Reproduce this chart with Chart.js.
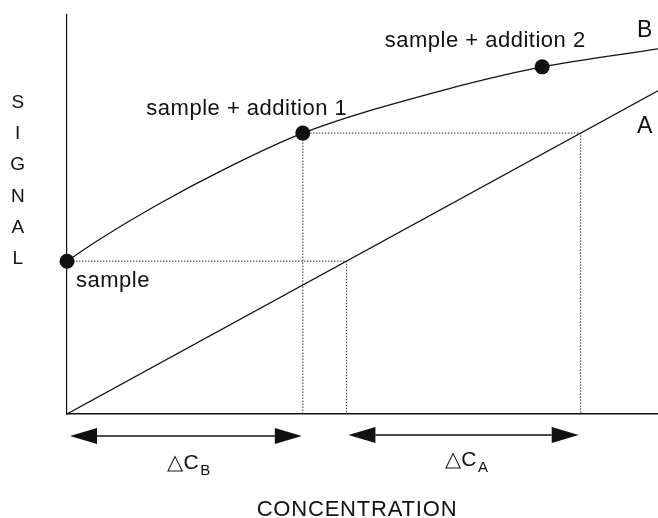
<!DOCTYPE html>
<html>
<head>
<meta charset="utf-8">
<script src="https://cdn.jsdelivr.net/npm/chart.js@4.4.1/dist/chart.umd.min.js"></script>
<style>
  html, body { margin: 0; padding: 0; background: #fff; }
  #c { display: block; }
</style>
</head>
<body>
<canvas id="c" width="658" height="518"></canvas>
<script>
// ---- data (arbitrary units 0..10) ----
const markerX = [0, 3.99, 8.04];
const markerY = [3.83, 7.04, 8.70];
const markerLabels = ['sample', 'sample + addition 1', 'sample + addition 2'];

const curveBX = [0, 0.5, 1.5, 2.75, 3.99, 6.2, 8.04, 10];
const curveBY = [3.83, 4.33, 5.22, 6.2, 7.04, 8.05, 8.70, 9.15];

const lineAX = [0, 10];
const lineAY = [0, 8.1];

const curveNames = ['A', 'B'];
const axisTitleX = 'CONCENTRATION';
const axisTitleY = 'SIGNAL';
const deltaLabels = [['\u25B3C', 'B'], ['\u25B3C', 'A']];

// ---- derived ----
const aSlope = lineAY[1] / lineAX[1];
const xSampleOnA = markerY[0] / aSlope;   // concentration on A giving the sample signal
const xAdd1OnA = markerY[1] / aSlope;     // concentration on A giving sample+addition 1 signal

const pts = (xs, ys) => xs.map((x, i) => ({ x: x, y: ys[i] }));

const FONT = '"Liberation Sans", Arial, Helvetica, sans-serif';
const INK = '#111';

const annotate = {
  id: 'annotate',
  afterDraw(chart) {
    const ctx = chart.ctx;
    const xs = chart.scales.x, ys = chart.scales.y;
    const px = v => xs.getPixelForValue(v);
    const py = v => ys.getPixelForValue(v);
    const area = chart.chartArea;
    ctx.save();
    ctx.fillStyle = INK;
    ctx.strokeStyle = INK;
    ctx.textBaseline = 'alphabetic';
    try { ctx.letterSpacing = '0.5px'; } catch (e) {}

    // point labels
    ctx.font = '22px ' + FONT;
    ctx.textAlign = 'left';
    ctx.fillText(markerLabels[0], px(markerX[0]) + 9, py(markerY[0]) + 26);
    ctx.textAlign = 'center';
    ctx.fillText(markerLabels[1], px(markerX[1]) - 56, py(markerY[1]) - 18);
    ctx.fillText(markerLabels[2], px(markerX[2]) - 57, py(markerY[2]) - 20);

    // curve names
    ctx.font = '23px ' + FONT;
    ctx.fillText(curveNames[1], 645, 37);
    ctx.fillText(curveNames[0], 645, 133);

    // y axis title, letters stacked
    ctx.font = '19px ' + FONT;
    const letters = axisTitleY.split('');
    letters.forEach((ch, i) => {
      ctx.fillText(ch, 18, 108 + i * 31.2);
    });

    // x axis title
    ctx.font = '22px ' + FONT;
    try { ctx.letterSpacing = '0.8px'; } catch (e) {}
    ctx.fillText(axisTitleX, 357, 516);
    try { ctx.letterSpacing = '0.5px'; } catch (e) {}

    // double arrows
    function dblArrow(x0, x1, y) {
      const L = 27, H = 8;
      ctx.lineWidth = 1.5;
      ctx.beginPath();
      ctx.moveTo(x0 + L, y);
      ctx.lineTo(x1 - L, y);
      ctx.stroke();
      ctx.beginPath();
      ctx.moveTo(x0, y);
      ctx.lineTo(x0 + L, y - H);
      ctx.lineTo(x0 + L, y + H);
      ctx.closePath();
      ctx.fill();
      ctx.beginPath();
      ctx.moveTo(x1, y);
      ctx.lineTo(x1 - L, y - H);
      ctx.lineTo(x1 - L, y + H);
      ctx.closePath();
      ctx.fill();
    }
    const bL = px(markerX[0]) + 3, bR = px(markerX[1]) - 1;
    const aL = px(xSampleOnA) + 2, aR = px(xAdd1OnA) - 2;
    dblArrow(bL, bR, area.bottom + 22);
    dblArrow(aL, aR, area.bottom + 21);

    // delta labels with subscripts
    function deltaLabel(parts, cx, base) {
      ctx.font = '21px ' + FONT;
      ctx.textAlign = 'left';
      const w1 = ctx.measureText(parts[0]).width;
      ctx.font = '15px ' + FONT;
      const w2 = ctx.measureText(parts[1]).width;
      const start = cx - (w1 + w2 + 1) / 2;
      ctx.font = '21px ' + FONT;
      ctx.fillText(parts[0], start, base);
      ctx.font = '15px ' + FONT;
      ctx.fillText(parts[1], start + w1 + 1, base + 6);
    }
    deltaLabel(deltaLabels[0], (bL + bR) / 2 + 3, area.bottom + 55);
    deltaLabel(deltaLabels[1], (aL + aR) / 2 + 3, area.bottom + 52);

    ctx.restore();
  }
};

new Chart(document.getElementById('c'), {
  type: 'scatter',
  data: {
    datasets: [
      {
        label: 'markers',
        data: pts(markerX, markerY),
        showLine: false,
        pointRadius: 7.5,
        pointBackgroundColor: INK,
        pointBorderColor: INK,
        pointBorderWidth: 0,
        clip: false
      },
      {
        label: 'B',
        data: pts(curveBX, curveBY),
        showLine: true,
        cubicInterpolationMode: 'monotone',
        borderColor: INK,
        borderWidth: 1.2,
        pointRadius: 0,
        clip: false
      },
      {
        label: 'A',
        data: pts(lineAX, lineAY),
        showLine: true,
        borderColor: INK,
        borderWidth: 1.2,
        pointRadius: 0
      },
      {
        label: 'sample guide',
        data: [
          { x: markerX[0], y: markerY[0] },
          { x: xSampleOnA, y: markerY[0] },
          { x: xSampleOnA, y: 0 }
        ],
        showLine: true,
        borderColor: '#333',
        borderWidth: 1,
        borderDash: [1.5, 1.5],
        pointRadius: 0
      },
      {
        label: 'addition guide',
        data: [
          { x: markerX[1], y: 0 },
          { x: markerX[1], y: markerY[1] },
          { x: xAdd1OnA, y: markerY[1] },
          { x: xAdd1OnA, y: 0 }
        ],
        showLine: true,
        borderColor: '#333',
        borderWidth: 1,
        borderDash: [1.5, 1.5],
        pointRadius: 0
      }
    ]
  },
  options: {
    responsive: false,
    animation: false,
    layout: { autoPadding: false, padding: { left: 67, top: 15, right: 0, bottom: 104 } },
    scales: {
      x: {
        type: 'linear', min: 0, max: 10,
        ticks: { display: false },
        grid: { display: false, drawTicks: false },
        border: { display: true, color: INK, width: 1.4 }
      },
      y: {
        type: 'linear', min: 0, max: 10,
        ticks: { display: false },
        grid: { display: false, drawTicks: false },
        border: { display: true, color: INK, width: 1.2 }
      }
    },
    plugins: {
      legend: { display: false },
      tooltip: { enabled: false }
    }
  },
  plugins: [annotate]
});
</script>
</body>
</html>
